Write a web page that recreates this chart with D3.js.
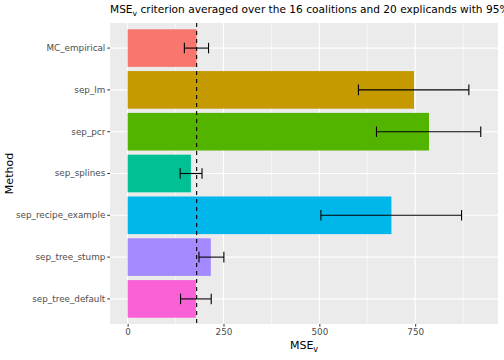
<!DOCTYPE html>
<html><head><meta charset="utf-8">
<script src="https://cdn.jsdelivr.net/npm/d3@7"></script>
<style>body{margin:0;background:#fff}svg{display:block;font-family:"DejaVu Sans",sans-serif}</style>
</head><body><svg id="c" width="504" height="360"></svg>
<script>
const methods = ["MC_empirical","sep_lm","sep_pcr","sep_splines","sep_recipe_example","sep_tree_stump","sep_tree_default"];
const mseValues = [180, 747, 786, 165, 688, 217, 178];
const ciLower = [148, 602, 649, 137, 504, 186, 138];
const ciUpper = [211, 890, 921, 194, 871, 251, 218];
const colors = ["#F8766D","#C49A00","#53B400","#00C094","#00B6EB","#A58AFF","#FB61D7"];
const refLine = 180;
const xTicks = [0, 250, 500, 750];
const xMinor = [125, 375, 625, 875];

const svg = d3.select("#c");
const L = 110, R = 498, T = 23, B = 324;
const x = d3.scaleLinear().domain([-46, 966]).range([L, R]);
const y = d3.scaleBand().domain(methods).range([T, B]).paddingInner(0.1).paddingOuter(0.15);

svg.append("rect").attr("x", L).attr("y", T).attr("width", R - L).attr("height", B - T).attr("fill", "#EBEBEB");
svg.selectAll(".mn").data(xMinor).join("line").attr("x1", d => x(d)).attr("x2", d => x(d)).attr("y1", T).attr("y2", B).attr("stroke", "#fff").attr("stroke-width", 0.55);
svg.selectAll(".mj").data(xTicks).join("line").attr("x1", d => x(d)).attr("x2", d => x(d)).attr("y1", T).attr("y2", B).attr("stroke", "#fff").attr("stroke-width", 1.1);
svg.selectAll(".hy").data(methods).join("line").attr("x1", L).attr("x2", R).attr("y1", d => y(d) + y.bandwidth() / 2).attr("y2", d => y(d) + y.bandwidth() / 2).attr("stroke", "#fff").attr("stroke-width", 1.1);

svg.selectAll(".bar").data(methods).join("rect")
  .attr("x", x(0)).attr("y", d => y(d))
  .attr("width", (d, i) => x(mseValues[i]) - x(0)).attr("height", y.bandwidth())
  .attr("fill", (d, i) => colors[i]);

const capH = y.bandwidth() * 0.28;
methods.forEach((m, i) => {
  const cy = y(m) + y.bandwidth() / 2;
  const g = svg.append("g").attr("stroke", "#000").attr("stroke-width", 1.1);
  g.append("line").attr("x1", x(ciLower[i])).attr("x2", x(ciUpper[i])).attr("y1", cy).attr("y2", cy);
  g.append("line").attr("x1", x(ciLower[i])).attr("x2", x(ciLower[i])).attr("y1", cy - capH / 2).attr("y2", cy + capH / 2);
  g.append("line").attr("x1", x(ciUpper[i])).attr("x2", x(ciUpper[i])).attr("y1", cy - capH / 2).attr("y2", cy + capH / 2);
});

svg.append("line").attr("x1", x(refLine)).attr("x2", x(refLine)).attr("y1", T).attr("y2", B)
  .attr("stroke", "#000").attr("stroke-width", 1.1).attr("stroke-dasharray", "4,4");

// axes
const xa = svg.append("g").attr("transform", `translate(0,${B})`)
  .call(d3.axisBottom(x).tickValues(xTicks).tickSize(2.7).tickPadding(2).tickFormat(d3.format("d")));
xa.select(".domain").remove();
xa.selectAll("line").attr("stroke", "#333");
xa.selectAll("text").attr("fill", "#4D4D4D").attr("font-size", 8.8).attr("font-family", "DejaVu Sans");

const ya = svg.append("g").attr("transform", `translate(${L},0)`)
  .call(d3.axisLeft(y).tickSize(2.7).tickPadding(2));
ya.select(".domain").remove();
ya.selectAll("line").attr("stroke", "#333");
ya.selectAll("text").attr("fill", "#4D4D4D").attr("font-size", 8.8).attr("font-family", "DejaVu Sans");

// labels
const xl = svg.append("text").attr("x", (L + R) / 2).attr("y", 349).attr("text-anchor", "middle").attr("font-size", 11).attr("fill", "#000");
xl.append("tspan").text("MSE");
xl.append("tspan").attr("font-size", 8).attr("dy", 3).text("v");

svg.append("text").attr("transform", `translate(13,${(T + B) / 2}) rotate(-90)`).attr("text-anchor", "middle").attr("font-size", 11).attr("fill", "#000").text("Method");

const tt = svg.append("text").attr("x", L).attr("y", 13).attr("font-size", 10.6).attr("fill", "#000");
tt.append("tspan").text("MSE");
tt.append("tspan").attr("font-size", 7.7).attr("dy", 3).text("v");
tt.append("tspan").attr("dy", -3).text(" criterion averaged over the 16 coalitions and 20 explicands with 95% confidence bands");
</script></body></html>
